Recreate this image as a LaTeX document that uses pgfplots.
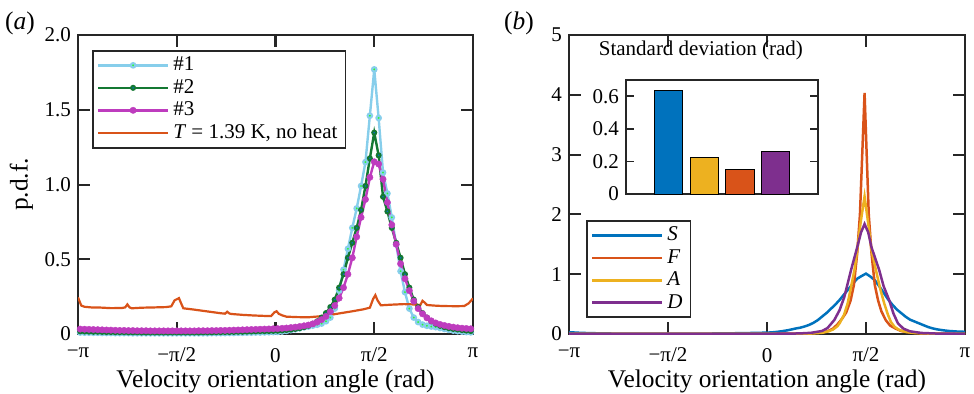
\documentclass[border=0pt]{standalone}
\usepackage{fontspec}
\setmainfont{Liberation Serif}
\usepackage{pgfplots}
\usepackage{pgfplotstable}
\pgfplotsset{compat=1.18}
\definecolor{cone}{RGB}{135,206,235}
\definecolor{ctwo}{RGB}{20,120,50}
\definecolor{cthree}{RGB}{190,60,190}
\definecolor{cgreen}{RGB}{40,255,40}
\definecolor{mblue}{RGB}{0,114,189}
\definecolor{morange}{RGB}{217,83,25}
\definecolor{myellow}{RGB}{237,177,32}
\definecolor{mpurple}{RGB}{126,47,142}
\definecolor{axgray}{RGB}{38,38,38}
\newcommand{\tfont}{\rmfamily\upshape\fontsize{10.5}{12}\selectfont}
\newcommand{\lfont}{\rmfamily\upshape\fontsize{12.7}{14}\selectfont}

\pgfplotstableread{
x s1 s2 s3
-178 0.010 0.018 0.033
-174 0.009 0.017 0.032
-170 0.009 0.016 0.031
-166 0.008 0.015 0.030
-162 0.008 0.015 0.029
-158 0.007 0.014 0.028
-154 0.007 0.013 0.027
-150 0.007 0.013 0.026
-146 0.006 0.012 0.025
-142 0.006 0.012 0.024
-138 0.006 0.012 0.024
-134 0.006 0.011 0.023
-130 0.005 0.011 0.023
-126 0.005 0.011 0.022
-122 0.005 0.010 0.022
-118 0.005 0.010 0.022
-114 0.005 0.010 0.021
-110 0.005 0.010 0.021
-106 0.005 0.010 0.021
-102 0.005 0.010 0.021
-98 0.005 0.010 0.021
-94 0.005 0.010 0.021
-90 0.005 0.010 0.021
-86 0.005 0.010 0.021
-82 0.005 0.010 0.021
-78 0.005 0.010 0.021
-74 0.005 0.010 0.021
-70 0.005 0.010 0.022
-66 0.005 0.011 0.022
-62 0.005 0.011 0.022
-58 0.006 0.011 0.023
-54 0.006 0.012 0.023
-50 0.006 0.012 0.024
-46 0.006 0.013 0.024
-42 0.007 0.013 0.025
-38 0.007 0.014 0.026
-34 0.008 0.015 0.027
-30 0.008 0.015 0.028
-26 0.009 0.016 0.029
-22 0.009 0.017 0.030
-18 0.010 0.018 0.031
-14 0.010 0.019 0.032
-10 0.011 0.019 0.033
-6 0.012 0.020 0.034
-2 0.013 0.021 0.035
2 0.014 0.022 0.036
6 0.017 0.024 0.038
10 0.021 0.027 0.040
14 0.026 0.030 0.043
18 0.032 0.034 0.046
22 0.038 0.039 0.050
26 0.045 0.046 0.055
30 0.050 0.055 0.060
34 0.056 0.068 0.068
38 0.062 0.085 0.080
42 0.070 0.110 0.096
46 0.085 0.140 0.118
50 0.110 0.180 0.150
54 0.170 0.230 0.190
58 0.290 0.310 0.240
62 0.430 0.400 0.310
66 0.570 0.510 0.400
70 0.710 0.610 0.510
74 0.840 0.710 0.650
78 0.990 0.830 0.780
82 1.150 0.990 0.900
86 1.460 1.175 1.048
90 1.770 1.347 1.152
94 1.445 1.195 1.137
98 1.080 0.918 1.035
102 0.940 0.820 0.880
106 0.780 0.710 0.730
110 0.600 0.610 0.600
114 0.420 0.510 0.470
118 0.280 0.400 0.370
122 0.170 0.310 0.290
126 0.110 0.230 0.220
130 0.080 0.180 0.170
134 0.063 0.140 0.135
138 0.055 0.110 0.108
142 0.050 0.085 0.088
146 0.046 0.068 0.074
150 0.040 0.055 0.064
154 0.034 0.046 0.057
158 0.028 0.039 0.051
162 0.023 0.034 0.046
166 0.019 0.030 0.042
170 0.016 0.026 0.039
174 0.013 0.023 0.037
178 0.011 0.020 0.035
}\tabA

\pgfplotsset{
  mybox/.style={
    scale only axis,
    anchor=south west,
    axis line style={line width=1pt, color=axgray},
    every tick/.style={line width=1pt, color=axgray},
    major tick length=6pt,
    tick align=inside,
    xtick pos=both, ytick pos=both,
    xticklabel pos=lower, yticklabel pos=left,
    tick label style={font=\tfont, color=black},
    xticklabel style={yshift=-3.5pt},
    label style={font=\lfont},
    xmin=-180, xmax=180,
    xtick={-180,-90,0,90,180},
    xticklabels={−π,−π/2,0,π/2,π},
    xlabel={Velocity orientation angle (rad)},
    xlabel style={yshift=3pt},
    legend cell align=left,
    legend style={draw=axgray, line width=0.9pt, font=\tfont,
      inner xsep=2pt, inner ysep=1pt, row sep=-1.2pt},
    legend image code/.code={\draw[mark repeat=2,mark phase=2,##1] plot coordinates {(0pt,0pt) (17.5pt,0pt) (35pt,0pt)};},
  }
}

\begin{document}
\begin{tikzpicture}
\path[use as bounding box] (0,0) rectangle (487pt,196.5pt);

\node[font=\lfont] at (10pt,185pt) {(\textit{a})};
\node[font=\lfont] at (259.5pt,185pt) {(\textit{b})};

% ---------- panel (a)
\begin{axis}[mybox,
  at={(39pt,29.5pt)}, width=197.5pt, height=149.5pt,
  ymin=0, ymax=2,
  ytick={0,0.5,1,1.5,2}, yticklabels={0,0.5,1.0,1.5,2.0},
  ylabel={p.d.f.},
  ylabel style={yshift=-1pt},
  legend style={at={(0,1)}, anchor=north west, xshift=7pt, yshift=-7.5pt},
]
\addplot[color=cone, line width=1.2pt, mark=*, mark size=1.1pt,
  mark options={draw=cone, fill=cgreen, line width=1.1pt}] table[x=x, y=s1] {\tabA};
\addlegendentry{\#1}
\addplot[color=ctwo, line width=1.2pt, mark=*, mark size=1pt,
  mark options={draw=ctwo, fill=mblue, line width=1pt}] table[x=x, y=s2] {\tabA};
\addlegendentry{\#2}
\addplot[color=cthree, line width=1.2pt, mark=*, mark size=1.6pt,
  mark options={draw=cthree, fill=cthree, line width=0.2pt}] table[x=x, y=s3] {\tabA};
\addlegendentry{\#3}
\addplot[color=morange, line width=1.1pt] coordinates {
(-180,0.245) (-177,0.19) (-174,0.182) (-168,0.178) (-160,0.177) (-150,0.173)
(-140,0.174) (-137,0.178) (-135,0.198) (-133,0.178) (-131,0.172) (-122,0.176)
(-110,0.178) (-100,0.18) (-95,0.185) (-92,0.225) (-88,0.24) (-86,0.205)
(-84,0.172) (-76,0.165) (-68,0.157) (-60,0.149) (-50,0.139) (-46,0.136)
(-44,0.149) (-42,0.137) (-40,0.134) (-30,0.128) (-20,0.124) (-10,0.121)
(-4,0.12) (-1,0.145) (1,0.152) (3,0.135) (6,0.125) (10,0.116) (20,0.113)
(30,0.112) (40,0.118) (50,0.128) (60,0.14) (70,0.152) (80,0.165) (86,0.176)
(89,0.235) (91,0.26) (93,0.225) (96,0.192) (105,0.196) (117,0.2) (125,0.198)
(132,0.194) (134,0.222) (136,0.21) (138,0.194) (145,0.19) (153,0.187)
(165,0.186) (172,0.187) (176,0.205) (180,0.238)};
\addlegendentry{\textit{T} = 1.39 K, no heat}
\end{axis}

% ---------- panel (b)
\begin{axis}[mybox,
  at={(284.5pt,29.5pt)}, width=198pt, height=149.5pt,
  ymin=0, ymax=5,
  ytick={0,1,2,3,4,5}, yticklabels={0,1,2,3,4,5},
  legend style={at={(0,0)}, anchor=south west, xshift=8.5pt, yshift=8pt,
    font=\tfont\itshape},
]
\addplot[color=mblue, line width=1.25pt] coordinates {
(-180,0.03) (-170,0.02) (-160,0.014) (-140,0.008) (-120,0.006) (-90,0.005)
(-60,0.007) (-40,0.01) (-20,0.015) (-2,0.022) (2,0.025) (6,0.030) (10,0.038)
(14,0.048) (18,0.060) (22,0.075) (26,0.092) (30,0.105) (34,0.125) (38,0.15)
(42,0.185) (46,0.23) (50,0.29) (54,0.35) (58,0.42) (62,0.49) (66,0.57)
(70,0.66) (74,0.75) (78,0.84) (82,0.925) (86,0.97) (90,1.01) (94,0.96)
(98,0.90) (102,0.80) (106,0.69) (110,0.58) (114,0.49) (118,0.41) (122,0.35)
(126,0.29) (130,0.24) (134,0.21) (138,0.18) (142,0.15) (146,0.12) (150,0.097)
(154,0.08) (158,0.068) (162,0.058) (166,0.05) (170,0.045) (174,0.04) (180,0.037)};
\addlegendentry{S}
\addplot[color=morange, line width=1.25pt] coordinates {
(-180,0.002) (-60,0.002) (0,0.003) (20,0.005) (40,0.012) (50,0.025) (55,0.045)
(60,0.09) (64,0.16) (68,0.25) (72,0.36) (76,0.56) (79,0.82) (82,1.35) (84.5,2.0)
(88.7,4.03) (92.5,2.0) (95,1.35) (98,0.82) (101,0.56) (104,0.38) (108,0.23)
(112,0.14) (117,0.09) (122,0.05) (130,0.025) (140,0.012) (160,0.005) (180,0.003)};
\addlegendentry{F}
\addplot[color=myellow, line width=1.25pt] coordinates {
(-180,0.001) (0,0.002) (20,0.003) (40,0.008) (50,0.02) (56,0.045) (60,0.075)
(64,0.13) (66,0.18) (70,0.32) (73.3,0.51) (76,0.75) (79.5,1.07) (82,1.40)
(85,1.85) (88.7,2.30) (92,1.85) (95,1.40) (99,1.07) (103,0.75) (106.6,0.51)
(110,0.32) (112.7,0.20) (116,0.12) (120,0.07) (126,0.035) (135,0.015)
(150,0.006) (180,0.002)};
\addlegendentry{A}
\addplot[color=mpurple, line width=1.25pt] coordinates {
(-180,0.002) (0,0.003) (20,0.006) (30,0.01) (40,0.02) (50,0.05) (55,0.10)
(61.2,0.234) (66,0.40) (70.3,0.62) (76.4,1.07) (82,1.45) (85.5,1.70)
(88.7,1.84) (92,1.70) (95,1.45) (102,1.07) (106,0.80) (111,0.57) (115,0.34)
(119,0.18) (124,0.09) (130,0.045) (140,0.018) (155,0.007) (180,0.003)};
\addlegendentry{D}
\end{axis}

% ---------- inset
\begin{axis}[
  at={(313pt,99.5pt)}, anchor=south west, scale only axis,
  width=96pt, height=57pt,
  axis background/.style={fill=white},
  axis line style={line width=0.8pt, color=axgray},
  every tick/.style={line width=0.8pt, color=axgray},
  major tick length=4pt, tick align=inside,
  xmin=-0.2, xmax=5.2, xtick=\empty,
  ymin=0, ymax=0.7,
  ytick={0,0.2,0.4,0.6}, yticklabels={0,0.2,0.4,0.6},
  ytick pos=both, yticklabel pos=left,
  tick label style={font=\tfont},
  title={Standard deviation (rad)},
  title style={at={(0.39,1.158)}, anchor=center, yshift=0pt, font=\tfont},
  ybar, bar width=0.8, bar shift=0pt,
]
\addplot[fill=mblue, draw=black, line width=0.5pt] coordinates {(1,0.637)};
\addplot[fill=myellow, draw=black, line width=0.5pt] coordinates {(2,0.227)};
\addplot[fill=morange, draw=black, line width=0.5pt] coordinates {(3,0.153)};
\addplot[fill=mpurple, draw=black, line width=0.5pt] coordinates {(4,0.26)};
\end{axis}
\end{tikzpicture}
\end{document}
